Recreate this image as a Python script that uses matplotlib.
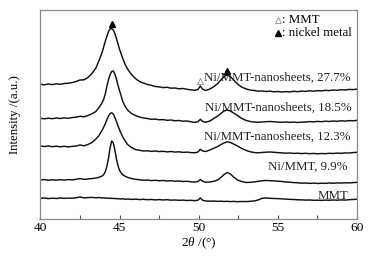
import numpy as np
import matplotlib
matplotlib.use("Agg")
import matplotlib.pyplot as plt
from matplotlib.ticker import MultipleLocator

plt.rcParams['font.family'] = ['Liberation Serif', 'DejaVu Serif']
plt.rcParams['mathtext.fontset'] = 'custom'
plt.rcParams['mathtext.rm'] = 'Liberation Serif'
plt.rcParams['mathtext.it'] = 'Liberation Serif:italic'

# 2theta grid (degrees)
two_theta = [
    40.0, 40.25, 40.5, 40.75, 41.0, 41.25, 41.5, 41.75, 42.0, 42.25,
    42.5, 42.75, 43.0, 43.25, 43.5, 43.7, 43.9, 44.0, 44.1, 44.2,
    44.3, 44.4, 44.5, 44.6, 44.7, 44.8, 44.9, 45.0, 45.1, 45.2,
    45.35, 45.5, 45.75, 46.0, 46.25, 46.5, 46.75, 47.0, 47.25, 47.5,
    47.75, 48.0, 48.25, 48.5, 48.75, 49.0, 49.25, 49.5, 49.75, 49.95,
    50.1, 50.25, 50.45, 50.7, 50.95, 51.2, 51.4, 51.6, 51.8, 52.0,
    52.2, 52.45, 52.7, 53.0, 53.25, 53.5, 53.75, 54.0, 54.25, 54.5,
    54.75, 55.0, 55.25, 55.5, 55.75, 56.0, 56.25, 56.5, 56.75, 57.0,
    57.25, 57.5, 57.75, 58.0, 58.25, 58.5, 58.75, 59.0, 59.25, 59.5,
    59.75, 60.0,
]

# Stacked intensities (a.u.)
mmt = [
    20.7, 21.0, 20.4, 20.8, 20.5, 21.0, 20.6, 20.9, 20.7, 21.2,
    22.0, 21.1, 21.4, 21.6, 21.2, 21.5, 21.0, 21.2, 20.8, 21.0,
    20.6, 20.9, 20.5, 20.7, 20.3, 20.5, 20.1, 20.3, 20.0, 20.2,
    19.7, 20.0, 19.6, 19.8, 19.4, 19.7, 19.3, 19.5, 19.1, 19.4,
    19.0, 19.3, 18.8, 19.0, 18.7, 18.9, 18.5, 18.7, 18.3, 18.8,
    21.0, 18.7, 18.0, 17.8, 18.0, 17.6, 17.8, 17.5, 17.7, 17.4,
    17.6, 17.3, 17.5, 17.4, 17.7, 18.0, 19.0, 20.7, 21.0, 20.7,
    20.5, 20.4, 20.1, 19.9, 19.6, 19.5, 19.2, 19.1, 18.9, 19.0,
    18.7, 18.8, 18.6, 18.9, 18.7, 19.0, 18.8, 19.1, 18.9, 19.3,
    19.5, 19.8,
]
ni_mmt_9_9 = [
    39.0, 39.4, 38.7, 39.2, 38.8, 39.3, 38.9, 39.4, 39.1, 39.7,
    40.4, 39.6, 40.0, 40.4, 41.0, 41.7, 43.0, 44.5, 47.5, 53.0,
    61.0, 71.5, 78.0, 76.0, 69.0, 60.0, 53.0, 48.5, 46.0, 44.2,
    42.7, 41.6, 40.5, 39.7, 39.2, 38.7, 39.0, 38.4, 38.7, 38.2,
    38.5, 38.0, 38.3, 37.8, 38.0, 37.5, 37.7, 37.2, 37.0, 37.5,
    39.5, 37.7, 36.7, 37.0, 37.7, 39.0, 41.5, 44.5, 46.5, 45.0,
    42.0, 39.0, 37.5, 36.5, 36.7, 37.0, 37.7, 38.2, 38.5, 38.3,
    38.1, 37.8, 37.5, 37.0, 36.8, 36.4, 36.2, 35.8, 36.0, 35.6,
    35.9, 35.5, 35.8, 35.6, 36.0, 35.7, 36.1, 35.9, 36.2, 36.1,
    36.4, 36.6,
]
ns_12_3 = [
    73.0, 72.5, 73.0, 72.3, 72.8, 72.2, 72.7, 72.1, 72.6, 73.0,
    74.0, 73.2, 74.5, 76.5, 80.0, 83.5, 89.0, 92.0, 95.5, 99.5,
    103.0, 105.5, 106.3, 105.0, 101.5, 97.5, 93.0, 89.0, 85.5, 82.0,
    78.0, 74.5, 71.5, 69.5, 68.7, 68.0, 68.2, 67.6, 68.0, 67.4,
    67.7, 67.1, 67.5, 66.9, 67.2, 66.6, 66.9, 66.4, 66.2, 67.0,
    69.7, 68.0, 67.5, 69.0, 70.7, 72.5, 74.5, 76.0, 77.2, 76.5,
    75.0, 73.0, 70.7, 68.5, 67.2, 66.5, 66.2, 66.5, 66.8, 67.0,
    66.7, 66.4, 66.1, 65.8, 66.0, 65.6, 65.8, 65.4, 65.7, 65.3,
    65.6, 65.2, 65.5, 65.3, 65.7, 65.5, 65.9, 65.7, 66.1, 66.0,
    66.4, 66.7,
]
ns_18_5 = [
    100.7, 100.2, 100.8, 100.3, 101.0, 100.5, 101.1, 100.7, 101.4, 101.8,
    102.7, 102.2, 103.5, 105.2, 107.5, 111.5, 116.5, 120.0, 125.5, 133.0,
    139.5, 144.5, 147.5, 148.0, 145.0, 140.0, 133.5, 128.0, 123.0, 117.5,
    112.5, 109.0, 105.5, 103.5, 102.0, 101.0, 100.5, 99.7, 99.9, 99.2,
    99.4, 98.7, 99.0, 98.2, 98.5, 97.8, 98.0, 97.2, 96.6, 97.2,
    99.7, 97.5, 96.7, 98.0, 100.5, 103.0, 105.5, 108.0, 109.0, 108.0,
    106.0, 103.5, 100.7, 98.5, 97.5, 97.0, 96.7, 97.0, 97.3, 97.5,
    97.2, 96.9, 96.7, 97.0, 96.6, 96.9, 96.5, 96.8, 97.0, 97.4,
    97.1, 97.6, 97.3, 97.8, 97.5, 98.0, 97.7, 98.2, 97.9, 98.4,
    98.2, 98.6,
]
ns_27_7 = [
    134.7, 134.2, 135.0, 134.4, 135.2, 134.7, 135.5, 135.8, 136.4, 137.5,
    139.0, 139.2, 141.5, 145.5, 151.0, 158.5, 167.0, 172.5, 178.0, 183.0,
    187.5, 190.0, 190.5, 189.0, 185.5, 180.5, 175.0, 169.5, 165.0, 160.5,
    154.5, 150.0, 144.5, 140.5, 137.5, 136.0, 134.5, 133.7, 132.5, 132.1,
    131.4, 131.7, 130.8, 131.0, 130.2, 130.5, 129.7, 129.2, 128.7, 129.5,
    133.0, 129.7, 128.5, 130.0, 132.3, 135.5, 139.0, 142.5, 144.0, 142.5,
    139.0, 135.0, 132.0, 130.0, 129.0, 128.5, 127.8, 128.0, 127.5, 127.8,
    127.2, 127.5, 127.0, 127.4, 127.1, 127.7, 127.3, 127.9, 127.6, 128.2,
    127.8, 128.4, 128.1, 128.7, 128.4, 129.0, 128.7, 129.3, 129.0, 129.6,
    129.4, 129.9,
]

series = [mmt, ni_mmt_9_9, ns_12_3, ns_18_5, ns_27_7]
labels = ["MMT", "Ni/MMT, 9.9%", "Ni/MMT-nanosheets, 12.3%",
          "Ni/MMT-nanosheets, 18.5%", "Ni/MMT-nanosheets, 27.7%"]
label_x = [59.45, 59.4, 59.6, 59.65, 59.6]
label_y = [23, 52, 82, 111, 141]

ni_peaks = [44.5, 51.8]      # nickel metal reflections
mmt_peaks = [50.05]          # MMT reflection
x_ticks = [40, 45, 50, 55, 60]

fig = plt.figure(figsize=(3.77, 2.57), dpi=100)
ax = fig.add_axes([0.1074, 0.1479, 0.8396, 0.8132])

for s in series:
    ax.plot(two_theta, s, color='#111111', lw=1.05)

for lab, lx, ly in zip(labels, label_x, label_y):
    ax.text(lx, ly, lab, ha='right', va='center', fontsize=9.3, color='#222222')

top = np.array(ns_27_7)
tt = np.array(two_theta)
ni_y = [np.interp(p, tt, top) + 4 for p in ni_peaks]
mmt_y = [np.interp(p, tt, top) + 6 for p in mmt_peaks]
ax.plot(ni_peaks, ni_y, linestyle='none', marker='^', ms=4.5, color='black')
ax.plot(mmt_peaks, mmt_y, linestyle='none', marker='^', ms=4.5,
        markerfacecolor='white', markeredgecolor='#999999', mew=0.7)

# legend
ax.plot([0.750], [0.952], transform=ax.transAxes, linestyle='none', marker='^',
        ms=4, markerfacecolor='white', markeredgecolor='#999999', mew=0.7)
ax.plot([0.750], [0.890], transform=ax.transAxes, linestyle='none', marker='^',
        ms=4, color='black')
ax.text(0.762, 0.952, ": MMT", transform=ax.transAxes, ha='left', va='center',
        fontsize=9.3)
ax.text(0.762, 0.890, ": nickel metal", transform=ax.transAxes, ha='left',
        va='center', fontsize=9.3)

ax.set_xlim(40, 60)
ax.set_ylim(0, 209)
ax.set_xticks(x_ticks)
ax.xaxis.set_minor_locator(MultipleLocator(2.5))
ax.set_yticks([])
ax.tick_params(axis='x', which='both', direction='in', length=3, width=0.8,
               color='#555555', labelsize=9.6, pad=2.5)
for sp in ax.spines.values():
    sp.set_color('#8a8a8a')
    sp.set_linewidth(0.9)

ax.set_xlabel(r"$\mathit{2\theta}$ /(°)", fontsize=9.5, labelpad=1)
ax.set_ylabel("Intensity /(a.u.)", fontsize=9.3, labelpad=14)

fig.savefig("out.png", dpi=100)
